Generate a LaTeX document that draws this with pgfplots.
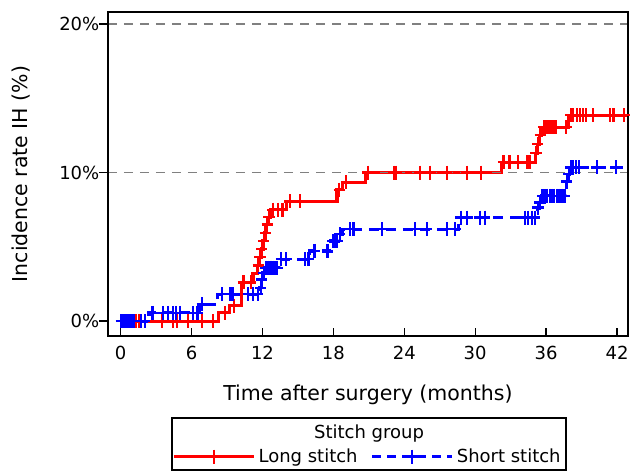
\documentclass[border=0pt]{standalone}
\usepackage{fontspec}
\setmainfont{DejaVu Sans}
\usepackage{pgfplots}
\usepackage{pgfplotstable}
\pgfplotsset{compat=1.18}

\definecolor{lred}{RGB}{255,0,0}
\definecolor{sblue}{RGB}{0,0,255}
\definecolor{gridgray}{RGB}{128,128,128}

\pgfplotstableread{
t p
0 0
8.3 0.56
9.2 1.05
10.2 2.6
11.2 3.2
11.6 3.75
11.75 4.3
11.9 4.85
12.05 5.4
12.2 5.95
12.35 6.5
12.5 7.0
12.65 7.5
14.0 8.05
18.3 8.85
18.8 9.35
20.7 10.0
32.2 10.7
35.1 11.3
35.25 11.9
35.45 12.5
35.6 13.05
37.9 13.85
42.93 13.85
}\longstep

\pgfplotstableread{
t p
0.2 0
0.5 0
0.8 0
1.05 0
1.3 0
1.6 0
3.5 0
4.4 0
4.8 0
5.7 0
6.9 0
7.8 0
8.8 0.56
9.6 1.05
10.4 2.6
11.0 2.6
11.65 3.75
11.8 4.3
11.95 4.85
12.1 5.4
12.25 5.95
12.4 6.5
12.55 7.0
12.9 7.5
13.3 7.5
13.7 7.5
14.3 8.05
15.2 8.05
18.5 8.85
19.1 9.35
20.9 10
23.1 10
23.3 10
25.3 10
26.2 10
27.6 10
29.3 10
30.5 10
32.4 10.7
32.9 10.7
33.6 10.7
34.4 10.7
34.6 10.7
35.15 11.3
35.3 11.9
35.5 12.5
35.8 13.05
36.0 13.05
36.2 13.05
36.4 13.05
36.6 13.05
36.8 13.05
37.7 13.05
38.1 13.85
38.3 13.85
38.6 13.85
38.9 13.85
39.1 13.85
39.4 13.85
40.0 13.85
41.4 13.85
41.7 13.85
42.6 13.85
}\longcens

\pgfplotstableread{
t p
0 0
2.4 0.56
6.7 1.12
8.2 1.8
11.8 2.25
11.9 2.8
12.05 3.26
12.2 3.6
13.5 4.16
16.0 4.72
17.8 5.39
18.4 5.85
18.8 6.18
28.6 6.97
35.3 7.64
35.4 7.98
35.6 8.43
37.7 9.4
37.85 9.9
38.0 10.34
42.93 10.34
}\shortstep

\pgfplotstableread{
t p
0.05 0
0.15 0
0.25 0
0.35 0
0.45 0
0.55 0
0.65 0
0.75 0
0.85 0
0.95 0
1.05 0
1.15 0
1.7 0
2.05 0
2.7 0.56
3.6 0.56
4.0 0.56
4.4 0.56
4.7 0.56
5.0 0.56
6.1 0.56
6.5 0.56
6.9 1.12
8.6 1.8
9.3 1.8
9.5 1.8
10.8 1.8
11.2 1.8
11.6 1.8
11.85 2.25
11.95 2.8
12.1 3.26
12.3 3.6
12.45 3.6
12.6 3.6
12.75 3.6
12.9 3.6
13.1 3.6
13.25 3.6
13.6 4.16
14.0 4.16
15.6 4.16
15.9 4.16
16.4 4.72
17.5 4.72
17.95 5.39
18.1 5.39
18.3 5.39
18.55 5.85
19.4 6.18
19.7 6.18
22.1 6.18
24.9 6.18
25.9 6.18
27.6 6.18
28.3 6.18
28.8 6.97
29.3 6.97
30.4 6.97
30.8 6.97
34.2 6.97
34.5 6.97
34.8 6.97
35.05 6.97
35.32 7.64
35.48 7.98
35.7 8.43
35.9 8.43
36.1 8.43
36.3 8.43
36.5 8.43
36.7 8.43
36.9 8.43
37.1 8.43
37.3 8.43
37.55 8.43
37.75 9.4
37.92 9.9
38.1 10.34
38.3 10.34
38.5 10.34
38.8 10.34
40.3 10.34
41.9 10.34
}\shortcens

\begin{document}
\begin{tikzpicture}
\begin{axis}[
  at={(0,0)}, anchor=south west,
  width=520bp, height=324bp, scale only axis,
  xmin=-1.07, xmax=42.93, ymin=-1.0, ymax=20.8,
  axis line style={line width=1.3bp},
  axis on top,
  tick align=inside,
  tick pos=left,
  major tick length=8.5bp,
  every tick/.style={black, line width=1.3bp},
  ytick style={xshift=-8.5bp},
  xtick={0,6,12,18,24,30,36,42},
  xticklabels={0,6,12,18,24,30,36,42},
  ytick={0,10,20},
  yticklabels={0\%,10\%,20\%},
  ticklabel style={font=\fontsize{18bp}{21bp}\selectfont},
  yticklabel style={inner xsep=0bp, xshift=-8.5bp},
  xticklabel style={inner ysep=0bp, yshift=-10bp},
  xlabel={Time after surgery (months)},
  ylabel={Incidence rate IH (\%)},
  label style={font=\fontsize{20.5bp}{24bp}\selectfont},
  xlabel style={at={(axis description cs:0.5,-0.1818)}, anchor=center},
  ylabel style={at={(axis description cs:-0.1667,0.5)}, anchor=center},
  legend image code/.code={\draw[mark repeat=2,mark phase=2,#1] plot coordinates {(0bp,0bp) (40bp,0bp) (80bp,0bp)};},
  legend style={at={(axis description cs:0.5,-0.372)}, anchor=center, draw=none, fill=none,
    legend columns=2, font=\fontsize{18bp}{21bp}\selectfont,
    nodes={inner sep=3bp},
    /tikz/every even column/.append style={column sep=10bp}},
]
\addplot[lred, line width=3.2bp, const plot, forget plot] table[x=t,y=p] {\longstep};
\addplot[lred, only marks, mark=+, mark size=7bp, mark options={xscale=0.8, line width=2.2bp}, forget plot] table[x=t,y=p] {\longcens};
\addplot[sblue, line width=3.2bp, dash pattern=on 10bp off 7bp, const plot, forget plot] table[x=t,y=p] {\shortstep};
\addplot[sblue, only marks, mark=+, mark size=7bp, mark options={xscale=0.8, line width=2.2bp}, forget plot] table[x=t,y=p] {\shortcens};
\addlegendimage{lred, line width=3.2bp, mark=+, mark size=7bp, mark options={solid, xscale=0.8, line width=2.2bp}}
\addlegendentry{Long stitch}
\addlegendimage{sblue, line width=3.2bp, dash pattern=on 9bp off 6bp, mark=+, mark size=7bp, mark options={solid, xscale=0.8, line width=2.2bp}}
\addlegendentry{Short stitch}
\draw[gridgray, line width=1.8bp, dash pattern=on 9bp off 7bp] (axis cs:-1.07,10) -- (axis cs:42.93,10);
\draw[gridgray, line width=1.8bp, dash pattern=on 9bp off 7bp] (axis cs:-1.07,20) -- (axis cs:42.93,20);
\end{axis}
\node[font=\fontsize{18bp}{21bp}\selectfont] at (261bp,-97.6bp) {Stitch group};
\draw[line width=1.3bp] (64bp,-82bp) rectangle (458bp,-134bp);
\pgfresetboundingbox
\useasboundingbox (-108bp,-136bp) rectangle (522bp,336bp);
\end{tikzpicture}
\end{document}
